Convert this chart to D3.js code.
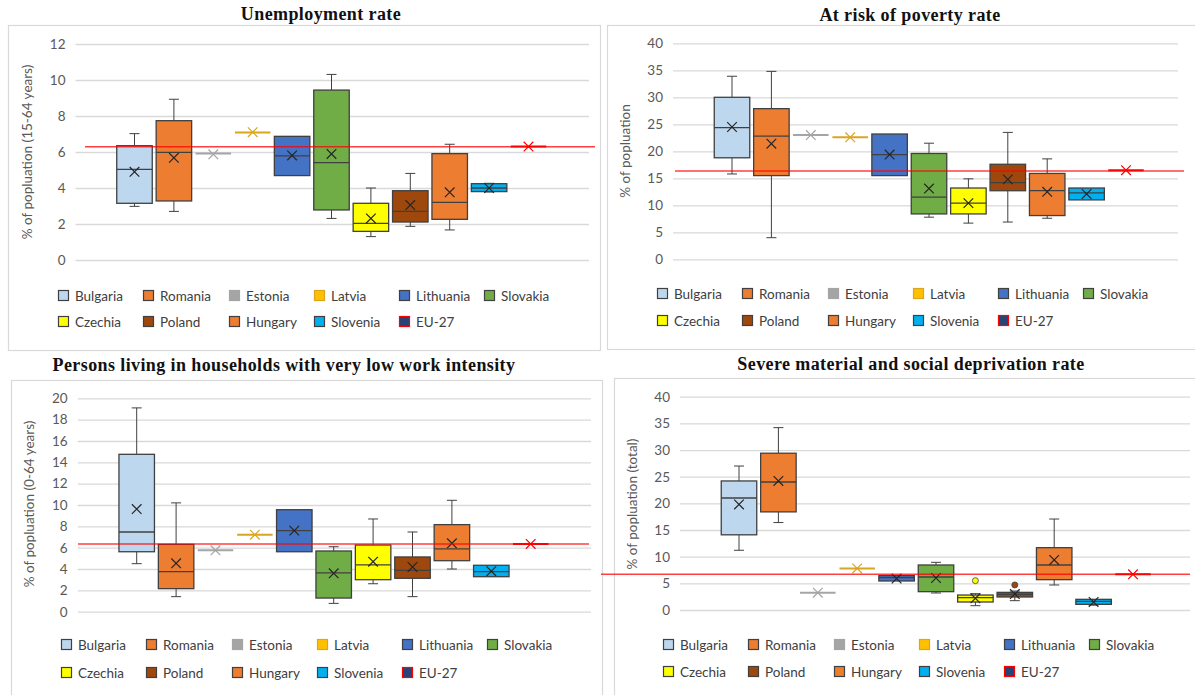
<!DOCTYPE html>
<html>
<head>
<meta charset="utf-8">
<script src="https://cdn.jsdelivr.net/npm/d3@7"></script>
<style>
  body { margin: 0; background: #fff; }
  svg text { font-family: Lato, 'Open Sans', sans-serif; }
  .title { font-family: 'Liberation Serif', 'Times New Roman', serif; font-weight: bold; font-size: 18px; letter-spacing: 0.4px; fill: #111; }
</style>
</head>
<body>
<svg id="chart" width="1195" height="695"></svg>
<script>
// Categories (series) and their colours
const countries = ['Bulgaria', 'Romania', 'Estonia', 'Latvia', 'Lithuania', 'Slovakia',
                   'Czechia', 'Poland', 'Hungary', 'Slovenia', 'EU-27'];
const fills   = ['#BDD7EE', '#ED7D31', '#A5A5A5', '#FFC000', '#4472C4', '#70AD47',
                 '#FFFF00', '#9E480E', '#ED7D31', '#00B0F0', '#264478'];
const borders = ['#404040', '#404040', '#A5A5A5', '#DAA520', '#404040', '#404040',
                 '#404040', '#404040', '#404040', '#404040', '#FF0000'];

// One row per country: [min, q1, median, q3, max, mean]
const unemployment = [
  [2.98, 3.15, 5.04, 6.35, 7.02, 4.90],
  [2.70, 3.28, 5.98, 7.74, 8.93, 5.68],
  [5.91, 5.91, 5.91, 5.91, 5.91, 5.87],
  [7.09, 7.09, 7.09, 7.09, 7.09, 7.10],
  [4.69, 4.69, 5.78, 6.87, 6.87, 5.81],
  [2.31, 2.78, 5.41, 9.44, 10.31, 5.89],
  [1.30, 1.59, 2.04, 3.15, 4.00, 2.31],
  [1.87, 2.11, 2.70, 3.85, 4.81, 3.05],
  [1.67, 2.26, 3.20, 5.91, 6.43, 3.76],
  [3.78, 3.80, 4.00, 4.24, 4.26, 4.00],
  [6.30, 6.30, 6.30, 6.30, 6.30, 6.30]
];
const poverty = [
  [15.8, 18.8, 24.4, 30.0, 33.9, 24.5],
  [4.0, 15.5, 22.8, 27.9, 34.8, 21.4],
  [23.0, 23.0, 23.0, 23.0, 23.0, 23.0],
  [22.6, 22.6, 22.6, 22.6, 22.6, 22.6],
  [15.5, 15.5, 19.4, 23.2, 23.2, 19.4],
  [7.8, 8.4, 11.5, 19.6, 21.5, 13.1],
  [6.7, 8.4, 10.4, 13.2, 14.9, 10.4],
  [6.9, 12.7, 14.2, 17.6, 23.5, 14.8],
  [7.6, 8.1, 12.7, 15.9, 18.6, 12.5],
  [11.0, 11.0, 12.3, 13.2, 13.2, 12.1],
  [16.5, 16.5, 16.5, 16.5, 16.5, 16.5]
];
const workIntensity = [
  [4.50, 5.62, 7.47, 14.75, 19.1, 9.62],
  [1.41, 2.16, 3.75, 6.31, 10.2, 4.54],
  [5.75, 5.75, 5.75, 5.75, 5.75, 5.75],
  [7.22, 7.22, 7.22, 7.22, 7.22, 7.22],
  [5.62, 5.62, 7.59, 9.56, 9.56, 7.60],
  [0.78, 1.28, 3.63, 5.69, 6.09, 3.60],
  [2.62, 3.00, 4.38, 6.25, 8.69, 4.69],
  [1.41, 3.13, 3.88, 5.13, 7.47, 4.19],
  [4.00, 4.78, 5.88, 8.16, 10.44, 6.41],
  [3.28, 3.28, 3.75, 4.35, 4.35, 3.80],
  [6.35, 6.35, 6.35, 6.35, 6.35, 6.35]
];
const deprivation = [
  [11.2, 14.1, 21.0, 24.2, 27.0, 19.8],
  [16.4, 18.4, 24.0, 29.4, 34.2, 24.2],
  [3.25, 3.25, 3.25, 3.25, 3.25, 3.25],
  [7.8, 7.8, 7.8, 7.8, 7.8, 7.8],
  [5.44, 5.44, 6.06, 6.44, 6.44, 5.90],
  [3.19, 3.44, 6.19, 8.44, 8.94, 6.00],
  [0.81, 1.50, 2.31, 2.81, 3.06, 2.20],
  [1.75, 2.44, 2.94, 3.31, 3.56, 3.00],
  [4.69, 5.69, 8.44, 11.69, 17.06, 9.38],
  [0.90, 1.06, 1.60, 2.00, 2.00, 1.50],
  [6.7, 6.7, 6.7, 6.7, 6.7, 6.7]
];
// Outliers shown as dots: [country, value]
const deprivationOutliers = [['Czechia', 5.5], ['Poland', 4.7]];

// EU-27 reference line value per panel
const euLines = [6.29, 16.35, 6.35, 6.7];

// Panel layout
const panels = [
  {title: 'Unemployment rate', data: unemployment, outliers: [], yMax: 12, step: 2,
   axisTitle: '% of popluation (15-64 years)', frame: [8, 25, 592, 325], titleX: 321, titleY: 20,
   left: 75.5, right: 589, top: 44, bottom: 260, red: [85, 595], legX: 75, legY: [296, 322], axX: 27, axY: 152},
  {title: 'At risk of poverty rate', data: poverty, outliers: [], yMax: 40, step: 5,
   axisTitle: '% of popluation', frame: [607, 25, 600, 324], titleX: 910, titleY: 21,
   left: 673, right: 1178, top: 43.3, bottom: 259.3, red: [675, 1184], legX: 674, legY: [294, 321], axX: 625, axY: 151},
  {title: 'Persons living in households with very low work intensity', data: workIntensity, outliers: [], yMax: 20, step: 2,
   axisTitle: '% of popluation (0-64 years)', frame: [11, 380, 591, 330], titleX: 284, titleY: 371,
   left: 77.7, right: 591, top: 398.3, bottom: 611.7, red: [78, 589], legX: 78, legY: [645, 673], axX: 29, axY: 504},
  {title: 'Severe material and social deprivation rate', data: deprivation, outliers: deprivationOutliers, yMax: 40, step: 5,
   axisTitle: '% of popluation (total)', frame: [614, 378, 600, 330], titleX: 911, titleY: 370,
   left: 680, right: 1190, top: 396.7, bottom: 610, red: [601, 1190], legX: 680, legY: [645, 672], axX: 632, axY: 504}
];

const svg = d3.select('#chart');
const boxW = 35.5;
const capW = 10;
const meanSym = d3.symbol().type(d3.symbolX).size(62);

panels.forEach((p, pi) => {
  const g = svg.append('g');

  // Frame and title
  g.append('rect')
   .attr('x', p.frame[0] + 0.5).attr('y', p.frame[1] + 0.5)
   .attr('width', p.frame[2]).attr('height', p.frame[3])
   .attr('fill', 'none').attr('stroke', '#D9D9D9').attr('stroke-width', 1.2);
  g.append('text').attr('class', 'title')
   .attr('x', p.titleX).attr('y', p.titleY)
   .attr('text-anchor', 'middle').text(p.title);

  // Scales
  const y = d3.scaleLinear().domain([0, p.yMax]).range([p.bottom, p.top]);
  const x = d3.scalePoint().domain(countries).range([p.left + 59, p.left + 59 + 394]);

  // Y axis with gridlines
  const yAxis = d3.axisLeft(y)
                  .tickValues(d3.range(0, p.yMax + 0.001, p.step))
                  .tickSize(-(p.right - p.left))
                  .tickPadding(10);
  g.append('g').attr('transform', `translate(${p.left},0)`)
   .call(yAxis)
   .call(a => {
     a.select('.domain').remove();
     a.selectAll('line').attr('stroke', '#D9D9D9').attr('stroke-width', 1.3);
     a.selectAll('text').attr('fill', '#595959').style('font-size', '13.5px');
   });

  // Axis title
  g.append('text')
   .attr('transform', `translate(${p.axX},${p.axY}) rotate(-90)`)
   .attr('text-anchor', 'middle').attr('dy', '0.35em')
   .attr('fill', '#595959').style('font-size', '13.5px')
   .text(p.axisTitle);

  // Boxes
  const rows = countries.map((c, i) => ({c, i, s: p.data[i]}));
  const box = g.append('g').selectAll('g').data(rows).enter().append('g');

  box.filter(d => d.s[4] > d.s[3]).append('line')
     .attr('x1', d => x(d.c)).attr('x2', d => x(d.c))
     .attr('y1', d => y(d.s[4])).attr('y2', d => y(d.s[3]))
     .attr('stroke', '#404040');
  box.filter(d => d.s[4] > d.s[3]).append('line')
     .attr('x1', d => x(d.c) - capW / 2).attr('x2', d => x(d.c) + capW / 2)
     .attr('y1', d => y(d.s[4])).attr('y2', d => y(d.s[4]))
     .attr('stroke', '#404040');
  box.filter(d => d.s[0] < d.s[1]).append('line')
     .attr('x1', d => x(d.c)).attr('x2', d => x(d.c))
     .attr('y1', d => y(d.s[1])).attr('y2', d => y(d.s[0]))
     .attr('stroke', '#404040');
  box.filter(d => d.s[0] < d.s[1]).append('line')
     .attr('x1', d => x(d.c) - capW / 2).attr('x2', d => x(d.c) + capW / 2)
     .attr('y1', d => y(d.s[0])).attr('y2', d => y(d.s[0]))
     .attr('stroke', '#404040');

  box.filter(d => d.s[3] > d.s[1]).append('rect')
     .attr('x', d => x(d.c) - boxW / 2).attr('width', boxW)
     .attr('y', d => y(d.s[3])).attr('height', d => y(d.s[1]) - y(d.s[3]))
     .attr('fill', d => fills[d.i]).attr('stroke', d => borders[d.i]).attr('stroke-width', 1.3);

  box.append('line')
     .attr('x1', d => x(d.c) - boxW / 2).attr('x2', d => x(d.c) + boxW / 2)
     .attr('y1', d => y(d.s[2])).attr('y2', d => y(d.s[2]))
     .attr('stroke', d => borders[d.i])
     .attr('stroke-width', d => d.s[3] > d.s[1] ? 1.3 : 2);

  // Outliers
  g.selectAll('circle.out').data(p.outliers).enter().append('circle')
   .attr('class', 'out')
   .attr('cx', d => x(d[0])).attr('cy', d => y(d[1])).attr('r', 3)
   .attr('fill', d => fills[countries.indexOf(d[0])]).attr('stroke', '#404040').attr('stroke-width', 0.8);

  // Mean markers
  box.append('path')
     .attr('d', meanSym)
     .attr('transform', d => `translate(${x(d.c)},${y(d.s[5])})`)
     .attr('fill', 'none')
     .attr('stroke', d => borders[d.i] === '#404040' ? '#262626' : borders[d.i])
     .attr('stroke-width', 1.2);

  // EU-27 reference line
  g.append('line')
   .attr('x1', p.red[0]).attr('x2', p.red[1])
   .attr('y1', y(euLines[pi])).attr('y2', y(euLines[pi]))
   .attr('stroke', '#FF0000').attr('stroke-opacity', 0.75).attr('stroke-width', 1.6);

  // Legend
  const colOff = [0, 85, 171, 256, 341, 426];
  const leg = g.append('g').selectAll('g').data(countries).enter().append('g')
               .attr('transform', (d, i) => `translate(${p.legX + colOff[i % 6]},${Math.round(p.legY[Math.floor(i / 6)])})`);
  leg.append('rect')
     .attr('x', -16.5).attr('y', -5.5).attr('width', 10).attr('height', 10)
     .attr('fill', (d, i) => fills[i]).attr('stroke', (d, i) => borders[i]).attr('stroke-width', 1.2);
  leg.append('text')
     .attr('x', 0).attr('y', 0).attr('dy', '0.36em')
     .attr('fill', '#404040').style('font-size', '13.5px')
     .text(d => d);
});
</script>
</body>
</html>
